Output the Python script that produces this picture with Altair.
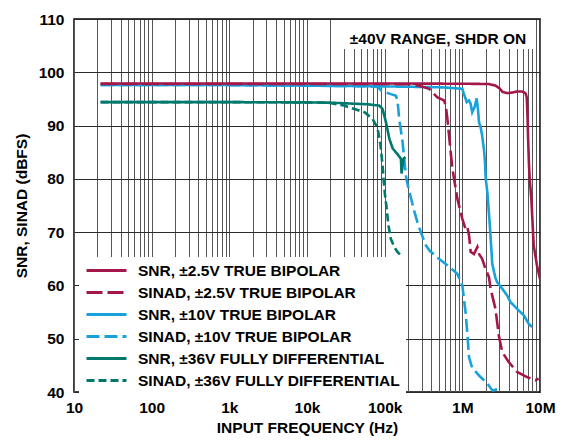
import altair as alt
import pandas as pd

FONT = "Liberation Sans"

SERIES = [
    "SNR, ±2.5V TRUE BIPOLAR",
    "SINAD, ±2.5V TRUE BIPOLAR",
    "SNR, ±10V TRUE BIPOLAR",
    "SINAD, ±10V TRUE BIPOLAR",
    "SNR, ±36V FULLY DIFFERENTIAL",
    "SINAD, ±36V FULLY DIFFERENTIAL",
]
COLORS = ["#a3174a", "#a3174a", "#18a2db", "#18a2db", "#00786b", "#00786b"]
DASHES = [[1, 0], [16, 5], [1, 0], [13, 5], [1, 0], [8, 4]]
DRAW_ORDER = [3, 2, 5, 4, 1, 0]

snr25_f = [22, 100, 1e3, 1e4, 1e5, 1e6, 2.2e6, 2.67e6, 3.0e6, 3.3e6, 3.8e6, 4.4e6, 5.1e6,
           5.8e6, 6.2e6, 6.55e6, 6.75e6, 6.9e6, 7.05e6, 7.2e6, 7.38e6, 7.74e6, 8.0e6, 8.3e6,
           9.15e6, 1e7]
snr25_v = [97.9, 97.9, 97.9, 97.9, 97.9, 97.85, 97.8, 97.5, 97.0, 96.3, 96.1, 96.2, 96.4,
           96.4, 96.25, 96.0, 95.3, 92.0, 87.0, 83.0, 79.8, 76.2, 72.0, 67.5,
           63.7, 61.2]

sinad25_f = [22, 1e3, 1e4, 1e5, 2.0e5, 2.5e5, 3.23e5, 3.74e5, 4.34e5, 4.78e5, 5.27e5, 5.82e5,
             6.11e5, 6.42e5, 6.75e5, 7.08e5, 7.44e5, 7.83e5, 8.63e5, 1.0e6, 1.1e6, 1.16e6,
             1.22e6, 1.28e6, 1.41e6, 1.56e6, 1.64e6, 1.8e6, 1.99e6, 2.2e6, 2.31e6, 2.67e6,
             2.95e6, 3.26e6, 3.97e6, 5.07e6, 6.8e6, 8.7e6, 9.6e6]
sinad25_v = [97.8, 97.8, 97.8, 97.8, 97.75, 97.6, 97.2, 96.9, 95.9, 95.3, 95.0, 94.7,
             93.8, 91.25, 88.1, 85.0, 82.0, 80.0, 76.25, 72.5, 70.6, 71.0,
             69.4, 66.3, 65.9, 67.2, 65.9, 65.0, 63.1, 61.6, 59.4, 55.6,
             50.6, 47.5, 45.6, 43.75, 42.8, 42.2, 42.5]

snr10_f = [22, 1e3, 1e4, 5e4, 1e5, 3e5, 6e5, 1.0e6, 1.05e6, 1.14e6, 1.22e6, 1.28e6, 1.34e6,
           1.44e6, 1.53e6, 1.59e6, 1.64e6, 1.72e6, 1.8e6, 1.9e6, 1.96e6, 2.0e6, 2.1e6,
           2.26e6, 2.43e6, 2.67e6, 2.81e6, 3.26e6, 3.78e6, 4.16e6, 5.07e6, 6.18e6, 7.16e6,
           7.89e6]
snr10_v = [97.6, 97.6, 97.5, 97.4, 97.35, 97.25, 97.15, 96.9, 95.9, 94.4, 94.7, 94.1, 92.5,
           93.5, 95.1, 93.1, 90.6, 89.7, 88.1, 85.5, 83.0, 80.0, 77.5,
           71.25, 64.0, 61.4, 60.6, 59.4, 58.1, 56.9, 55.6, 54.4, 52.8,
           52.2]

sinad10_f = [22, 1e3, 1e4, 5e4, 7e4, 8.2e4, 9e4, 1.05e5, 1.2e5, 1.4e5, 1.47e5, 1.54e5, 1.62e5,
             1.7e5, 1.82e5, 1.9e5, 2.17e5, 2.4e5, 2.65e5, 2.92e5, 3.4e5, 3.8e5, 4.8e5, 6.4e5,
             8.6e5, 1.0e6, 1.1e6, 1.16e6, 1.22e6, 1.34e6, 1.64e6, 2.1e6, 2.43e6, 2.65e6,
             2.8e6]
sinad10_v = [97.6, 97.6, 97.5, 97.4, 97.35, 97.2, 96.6, 96.2, 95.9, 95.6, 94.4, 91.25, 89.0,
             86.9, 82.5, 80.0, 76.5, 74.0, 71.8, 70.0, 67.5, 66.5, 65.2, 63.8,
             62.2, 60.0, 55.0, 51.0, 46.5, 44.5, 43.1, 41.6, 40.3, 40.4,
             40.5]

snr36_f = [22, 1e3, 1e4, 2e4, 4.1e4, 6e4, 8.5e4, 9.4e4, 1.04e5, 1.15e5, 1.27e5, 1.47e5,
           1.62e5, 1.65e5, 1.75e5, 1.85e5]
snr36_v = [94.4, 94.4, 94.35, 94.3, 94.1, 94.0, 93.75, 93.1, 90.6, 87.5, 85.7, 84.6,
           83.75, 81.0, 83.75, 84.1]

sinad36_f = [22, 1e3, 1e4, 1.86e4, 3e4, 4.1e4, 5.5e4, 7e4, 8.1e4, 8.8e4, 9.4e4, 9.8e4,
             1.01e5, 1.05e5, 1.12e5, 1.2e5, 1.33e5, 1.47e5, 1.62e5, 1.88e5]
sinad36_v = [94.4, 94.4, 94.35, 94.3, 93.75, 93.1, 92.5, 91.25, 89.5, 86.5, 82.5, 79.0,
             77.0, 75.0, 71.25, 68.75, 67.2, 66.25, 65.6, 63.1]

FREQS = [snr25_f, sinad25_f, snr10_f, sinad10_f, snr36_f, sinad36_f]
VALS = [snr25_v, sinad25_v, snr10_v, sinad10_v, snr36_v, sinad36_v]

X_TICKS = [m * 10 ** d for d in range(1, 7) for m in range(1, 10)] + [10 ** 7]
X_MAJOR = [10, 100, 1000, 10000, 100000, 1000000, 10000000]
X_MAJOR_LABELS = ["10", "100", "1k", "10k", "100k", "1M", "10M"]
Y_TICKS = [40, 50, 60, 70, 80, 90, 100, 110]

ANNOTATION = "±40V RANGE, SHDR ON"

rows = []
for name, fs, vs in zip(SERIES, FREQS, VALS):
    for f, v in zip(fs, vs):
        rows.append({"series": name, "freq": f, "val": v})
df = pd.DataFrame(rows)

label_expr = " : ".join(
    f"datum.value == {v} ? '{l}'" for v, l in zip(X_MAJOR, X_MAJOR_LABELS)
) + " : ''"

x_axis = alt.Axis(
    values=X_TICKS, labelExpr=label_expr, grid=True, gridColor="#555555", gridWidth=1,
    ticks=False, domain=False, labelFont=FONT, labelFontSize=15.5, labelFontWeight="bold",
    labelColor="black", labelPadding=8, labelOverlap=False, labelFlush=False,
    titleFont=FONT, titleFontSize=15.5, titleFontWeight="bold", titleColor="black",
    titlePadding=5,
)
y_axis = alt.Axis(
    values=Y_TICKS, grid=True, gridColor="#2a2a2a", gridWidth=1, ticks=False, domain=False,
    labelFont=FONT, labelFontSize=15.5, labelFontWeight="bold", labelColor="black",
    labelPadding=10, titleFont=FONT, titleFontSize=15.5, titleFontWeight="bold",
    titleColor="black", titlePadding=9,
)

legend = alt.Legend(
    title=None, orient="none", legendX=5, legendY=238, fillColor="white", padding=6,
    symbolType="stroke", symbolSize=1600, symbolStrokeWidth=3, labelFont=FONT,
    labelFontSize=15.5, labelFontWeight="bold", labelColor="black", labelOffset=10,
    rowPadding=6, labelLimit=0, clipHeight=15,
)

color_scale = alt.Scale(domain=SERIES, range=COLORS)
dash_scale = alt.Scale(domain=SERIES, range=DASHES)

base = alt.Chart(df).mark_line(strokeWidth=2.6, clip=True).encode(
    x=alt.X("freq:Q", scale=alt.Scale(type="log", domain=[10, 1e7], nice=False),
            axis=x_axis, title="INPUT FREQUENCY (Hz)"),
    y=alt.Y("val:Q", scale=alt.Scale(domain=[40, 110], nice=False, zero=False),
            axis=y_axis, title="SNR, SINAD (dBFS)"),
    color=alt.Color("series:N", scale=color_scale, legend=legend),
    strokeDash=alt.StrokeDash("series:N", scale=dash_scale, legend=legend),
)

layers = [base.transform_filter(alt.datum.series == SERIES[i]) for i in DRAW_ORDER]

ann_df = pd.DataFrame({"t": [ANNOTATION]})
ann_box = alt.Chart(ann_df).mark_rect(color="white").encode(
    x=alt.value(268), x2=alt.value(460), y=alt.value(1), y2=alt.value(30)
)
ann_text = alt.Chart(ann_df).mark_text(
    font=FONT, fontSize=15.5, fontWeight="bold", color="black", align="center",
    baseline="middle"
).encode(text="t:N", x=alt.value(364), y=alt.value(20))

chart = alt.layer(ann_box, *layers, ann_text).properties(
    width=466, height=373,
    padding={"left": 6, "top": 4, "right": 0, "bottom": 0},
).configure_view(stroke="black", strokeWidth=1.5)

chart.save("out.html", embed_options={"renderer": "svg", "actions": False})
